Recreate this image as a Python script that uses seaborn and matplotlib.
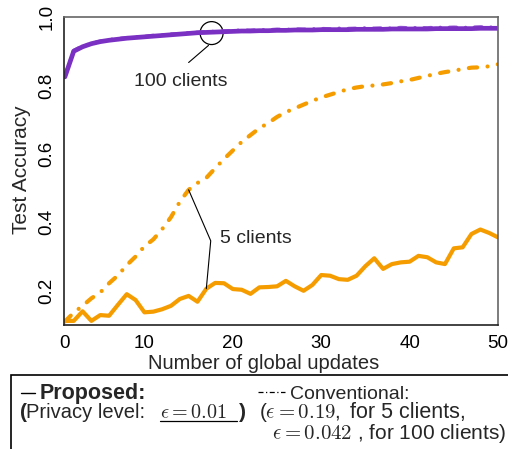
import matplotlib
matplotlib.use("Agg")
import matplotlib.pyplot as plt
import seaborn as sns
import pandas as pd
from matplotlib.patches import Ellipse, Rectangle
from matplotlib.lines import Line2D

# Global update index (x axis)
updates = list(range(1, 51))

# Test accuracy, 5 clients
proposed_5 = [0.112, 0.112, 0.140, 0.112, 0.129, 0.127, 0.159, 0.190, 0.173, 0.137,
              0.139, 0.146, 0.156, 0.176, 0.185, 0.168, 0.206, 0.223, 0.222, 0.205,
              0.203, 0.191, 0.210, 0.211, 0.213, 0.229, 0.213, 0.200, 0.217, 0.246,
              0.244, 0.234, 0.232, 0.244, 0.272, 0.295, 0.264, 0.278, 0.283, 0.285,
              0.302, 0.298, 0.283, 0.278, 0.324, 0.327, 0.366, 0.379, 0.369, 0.356]
conventional_5 = [0.110, 0.136, 0.156, 0.178, 0.195, 0.222, 0.245, 0.275, 0.300, 0.330,
                  0.350, 0.380, 0.415, 0.460, 0.495, 0.515, 0.530, 0.558, 0.585, 0.610,
                  0.635, 0.655, 0.675, 0.690, 0.708, 0.722, 0.733, 0.744, 0.755, 0.765,
                  0.773, 0.781, 0.789, 0.794, 0.798, 0.800, 0.803, 0.807, 0.812, 0.816,
                  0.822, 0.828, 0.834, 0.839, 0.843, 0.848, 0.852, 0.853, 0.856, 0.862]

# Test accuracy, 100 clients
proposed_100 = [0.825, 0.900, 0.913, 0.922, 0.928, 0.932, 0.935, 0.938, 0.940, 0.942,
                0.944, 0.946, 0.948, 0.950, 0.952, 0.954, 0.955, 0.956, 0.957, 0.958,
                0.959, 0.959, 0.960, 0.960, 0.961, 0.961, 0.962, 0.962, 0.962, 0.963,
                0.963, 0.963, 0.963, 0.964, 0.964, 0.964, 0.964, 0.965, 0.965, 0.965,
                0.965, 0.965, 0.966, 0.966, 0.966, 0.966, 0.966, 0.967, 0.967, 0.967]
conventional_100 = [0.828, 0.902, 0.915, 0.923, 0.929, 0.934, 0.937, 0.939, 0.942, 0.943,
                    0.946, 0.947, 0.950, 0.951, 0.954, 0.955, 0.957, 0.958, 0.959, 0.960,
                    0.962, 0.961, 0.963, 0.962, 0.964, 0.963, 0.965, 0.964, 0.965, 0.966,
                    0.965, 0.967, 0.966, 0.967, 0.968, 0.967, 0.968, 0.967, 0.969, 0.968,
                    0.969, 0.968, 0.970, 0.969, 0.970, 0.969, 0.970, 0.971, 0.970, 0.971]

x_tick_values = [10, 20, 30, 40, 50]
x_tick_labels = ["10", "20", "30", "40", "50"]
y_tick_values = [0.2, 0.4, 0.6, 0.8, 1.0]
y_tick_labels = ["0.2", "0.4", "0.6", "0.8", "1.0"]

ORANGE = "#F59D00"
PURPLE = "#7A30C2"
DASHDOT = (0, (2.0, 2.5, 0.01, 2.5))

sns.set_style("white")
plt.rcParams["font.family"] = ["Liberation Sans", "DejaVu Sans"]
plt.rcParams["mathtext.fontset"] = "cm"

W, H = 508, 449
fig = plt.figure(figsize=(W / 100, H / 100), dpi=100)
ax = fig.add_axes([64 / W, 1 - 325 / H, (498 - 64) / W, (325 - 17) / H])

df = pd.DataFrame({
    "update": updates,
    "p5": proposed_5, "c5": conventional_5,
    "p100": proposed_100, "c100": conventional_100,
})

sns.lineplot(data=df, x="update", y="c5", ax=ax, color=ORANGE, lw=3.0,
             linestyle=DASHDOT, dash_capstyle="round")
sns.lineplot(data=df, x="update", y="p5", ax=ax, color=ORANGE, lw=3.0,
             solid_joinstyle="round")
sns.lineplot(data=df, x="update", y="c100", ax=ax, color="#9A62D4", lw=2.6,
             linestyle=DASHDOT, dash_capstyle="round")
sns.lineplot(data=df, x="update", y="p100", ax=ax, color=PURPLE, lw=3.4,
             solid_joinstyle="round")

ax.set_xlim(0.9, 50)
ax.set_ylim(0.1, 1.0)
ax.set_xticks([0.9] + x_tick_values)
ax.set_xticklabels(["0"] + x_tick_labels)
ax.set_yticks(y_tick_values)
ax.set_yticklabels(y_tick_labels, rotation=90, va="center")
ax.tick_params(axis="both", direction="in", length=10, width=1.0, labelsize=13.5,
               colors="black", top=False, right=False)
ax.tick_params(axis="x", pad=7)
ax.tick_params(axis="y", pad=6)

for side in ["left", "bottom"]:
    ax.spines[side].set_color("#222222")
    ax.spines[side].set_linewidth(1.2)
for side in ["top", "right"]:
    ax.spines[side].set_color("#666666")
    ax.spines[side].set_linewidth(1.2)

ax.set_xlabel("Number of global updates", fontsize=14.5)
ax.xaxis.set_label_coords(0.461, -0.125)
ax.xaxis.label.set_va("center")
ax.set_ylabel("Test Accuracy", fontsize=15)
ax.yaxis.set_label_coords(-0.097, 0.503)
ax.yaxis.label.set_va("center")

# Pointer for the 5-client curves
ax.plot([15, 17.5, 17], [conventional_5[14], 0.346, proposed_5[16]],
        color="black", lw=0.8)
ax.text(18.6, 0.353, "5 clients", fontsize=14, va="center", ha="left")

# Pointer for the 100-client curves
ax.add_patch(Ellipse((17.6, 0.953), 2.6, 0.067, fill=False, ec="black", lw=0.9))
ax.plot([15.0, 17.25], [0.867, 0.917], color="black", lw=0.8)
ax.text(14.1, 0.812, "100 clients", fontsize=14, va="center", ha="center")

# Legend box beneath the axes
fig.patches.append(Rectangle((11 / W, -0.2), 1.2, 0.2 + 1 - 375 / H,
                             transform=fig.transFigure, fill=False,
                             ec="black", lw=1.2))


def fx(px):
    return px / W


def fy(py):
    return 1 - py / H


fig.lines.append(Line2D([fx(21), fx(35)], [fy(393), fy(393)],
                        transform=fig.transFigure, color="black", lw=1.0))
fig.text(fx(40), fy(399), "Proposed:", fontsize=15.5, fontweight="bold", va="baseline")
fig.lines.append(Line2D([fx(258), fx(285)], [fy(392), fy(392)],
                        transform=fig.transFigure, color="black", lw=0.9,
                        linestyle=(0, (4, 2, 1, 2))))
fig.text(fx(290), fy(399), "Conventional:", fontsize=14, va="baseline")

fig.text(fx(20), fy(418), "(", fontsize=15, fontweight="bold", va="baseline")
fig.text(fx(26.5), fy(418), "Privacy level:", fontsize=14.5, va="baseline")
fig.text(fx(160), fy(418), r"$\epsilon = \mathbf{0.01}$", fontsize=14.5, va="baseline")
fig.lines.append(Line2D([fx(160), fx(237)], [fy(421), fy(421)],
                        transform=fig.transFigure, color="black", lw=0.9))
fig.text(fx(239), fy(418), ")", fontsize=15, fontweight="bold", va="baseline")
fig.text(fx(259), fy(418), r"($\epsilon = 0.19$,", fontsize=15, va="baseline")
fig.text(fx(350), fy(418), "for 5 clients,", fontsize=15.5, va="baseline")
fig.text(fx(271.5), fy(439), r"$\epsilon = 0.042$ , for 100 clients)", fontsize=15,
         va="baseline")

fig.savefig("out.png", dpi=100)
